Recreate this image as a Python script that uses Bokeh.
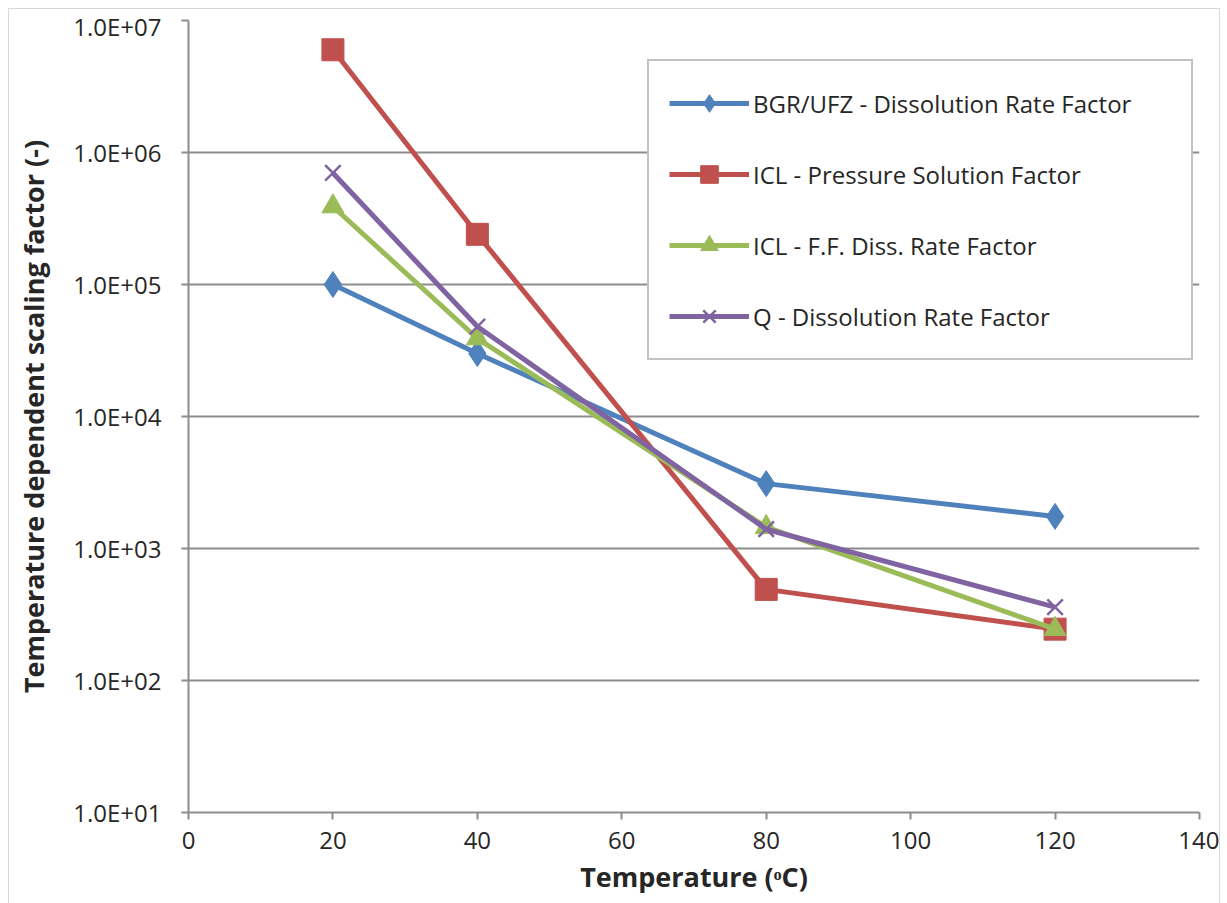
from bokeh.plotting import figure
from bokeh.models import Range1d, FixedTicker, CustomJSTickFormatter, Legend, LegendItem
from bokeh.embed import file_html
from bokeh.resources import INLINE

temperature = [20, 40, 80, 120]
bgr_ufz = [1.0e5, 3.0e4, 3.1e3, 1.75e3]
icl_pressure = [6.0e6, 2.4e5, 4.9e2, 2.45e2]
icl_ff = [3.9e5, 3.9e4, 1.45e3, 2.45e2]
q_diss = [7.0e5, 4.8e4, 1.4e3, 3.6e2]

series_names = [
    "BGR/UFZ - Dissolution Rate Factor",
    "ICL - Pressure Solution Factor",
    "ICL - F.F. Diss. Rate Factor",
    "Q - Dissolution Rate Factor",
]
x_ticks = [0, 20, 40, 60, 80, 100, 120, 140]
y_ticks = [1e1, 1e2, 1e3, 1e4, 1e5, 1e6, 1e7]

FONT = "Open Sans"
TXT = "#262626"
GRID = "#8c8c8c"

p = figure(width=1212, height=895, x_range=Range1d(0, 140), y_range=Range1d(10, 1e7),
           y_axis_type="log", output_backend="svg", toolbar_location=None,
           min_border_left=179, min_border_right=22, min_border_top=11, min_border_bottom=92,
           margin=(8, 0, 0, 8))
p.styles = {"border-left": "1px solid #d9d9d9", "border-top": "1px solid #d9d9d9",
            "border-right": "1px solid #d9d9d9"}
p.outline_line_color = None
p.background_fill_color = "white"

# axes
p.xaxis.ticker = FixedTicker(ticks=x_ticks)
p.yaxis.ticker = FixedTicker(ticks=y_ticks)
p.yaxis.formatter = CustomJSTickFormatter(code="""
const e = Math.round(Math.log10(tick));
return "1.0E+" + (e < 10 ? "0" + e : "" + e);
""")
for ax in (p.xaxis[0], p.yaxis[0]):
    ax.axis_line_color = GRID
    ax.axis_line_width = 2
    ax.major_tick_line_color = GRID
    ax.major_tick_line_width = 2
    ax.major_tick_out = 7
    ax.major_tick_in = 0
    ax.minor_tick_line_color = None
    ax.major_label_text_font = FONT
    ax.major_label_text_font_size = "24px"
    ax.major_label_text_color = TXT
    ax.axis_label_text_font = FONT
    ax.axis_label_text_font_style = "bold"
    ax.axis_label_text_font_size = "27px"
    ax.axis_label_text_color = TXT

p.xaxis.axis_label = "Temperature (ᵒC)"
p.yaxis.axis_label = "Temperature dependent scaling factor (-)"
p.xaxis.major_label_standoff = 12
p.yaxis.major_label_standoff = 20
p.xaxis.axis_label_standoff = 6
p.yaxis.axis_label_standoff = 18

p.xgrid.grid_line_color = None
p.ygrid.grid_line_color = GRID
p.ygrid.grid_line_width = 2

colors = ["#4F81BD", "#C0504D", "#9BBB59", "#8064A2"]
data = [bgr_ufz, icl_pressure, icl_ff, q_diss]
items = []
for i, (vals, col, name) in enumerate(zip(data, colors, series_names)):
    lr = p.line(temperature, vals, line_color=col, line_width=5)
    if i == 0:
        mr = p.scatter(temperature, vals, marker="diamond", size=26, fill_color=col, line_color=col)
    elif i == 1:
        mr = p.scatter(temperature, vals, marker="square", size=22, fill_color=col, line_color=col)
    elif i == 2:
        mr = p.scatter(temperature, vals, marker="triangle", size=22, fill_color=col, line_color=col)
    else:
        mr = p.scatter(temperature, vals, marker="x", size=22, line_color=col, line_width=2.5)
    items.append(LegendItem(label=name, renderers=[lr, mr]))

legend = Legend(items=items, location=(459, 452), padding=20, spacing=27,
                glyph_width=80, glyph_height=44, label_height=40, label_standoff=4,
                label_width=418, label_text_font=FONT, label_text_font_size="24px",
                label_text_color=TXT, border_line_color="#868686", border_line_width=2,
                background_fill_color="white", background_fill_alpha=1.0, margin=0)
p.add_layout(legend, "center")

open("out.html", "w").write(file_html(p, INLINE))
